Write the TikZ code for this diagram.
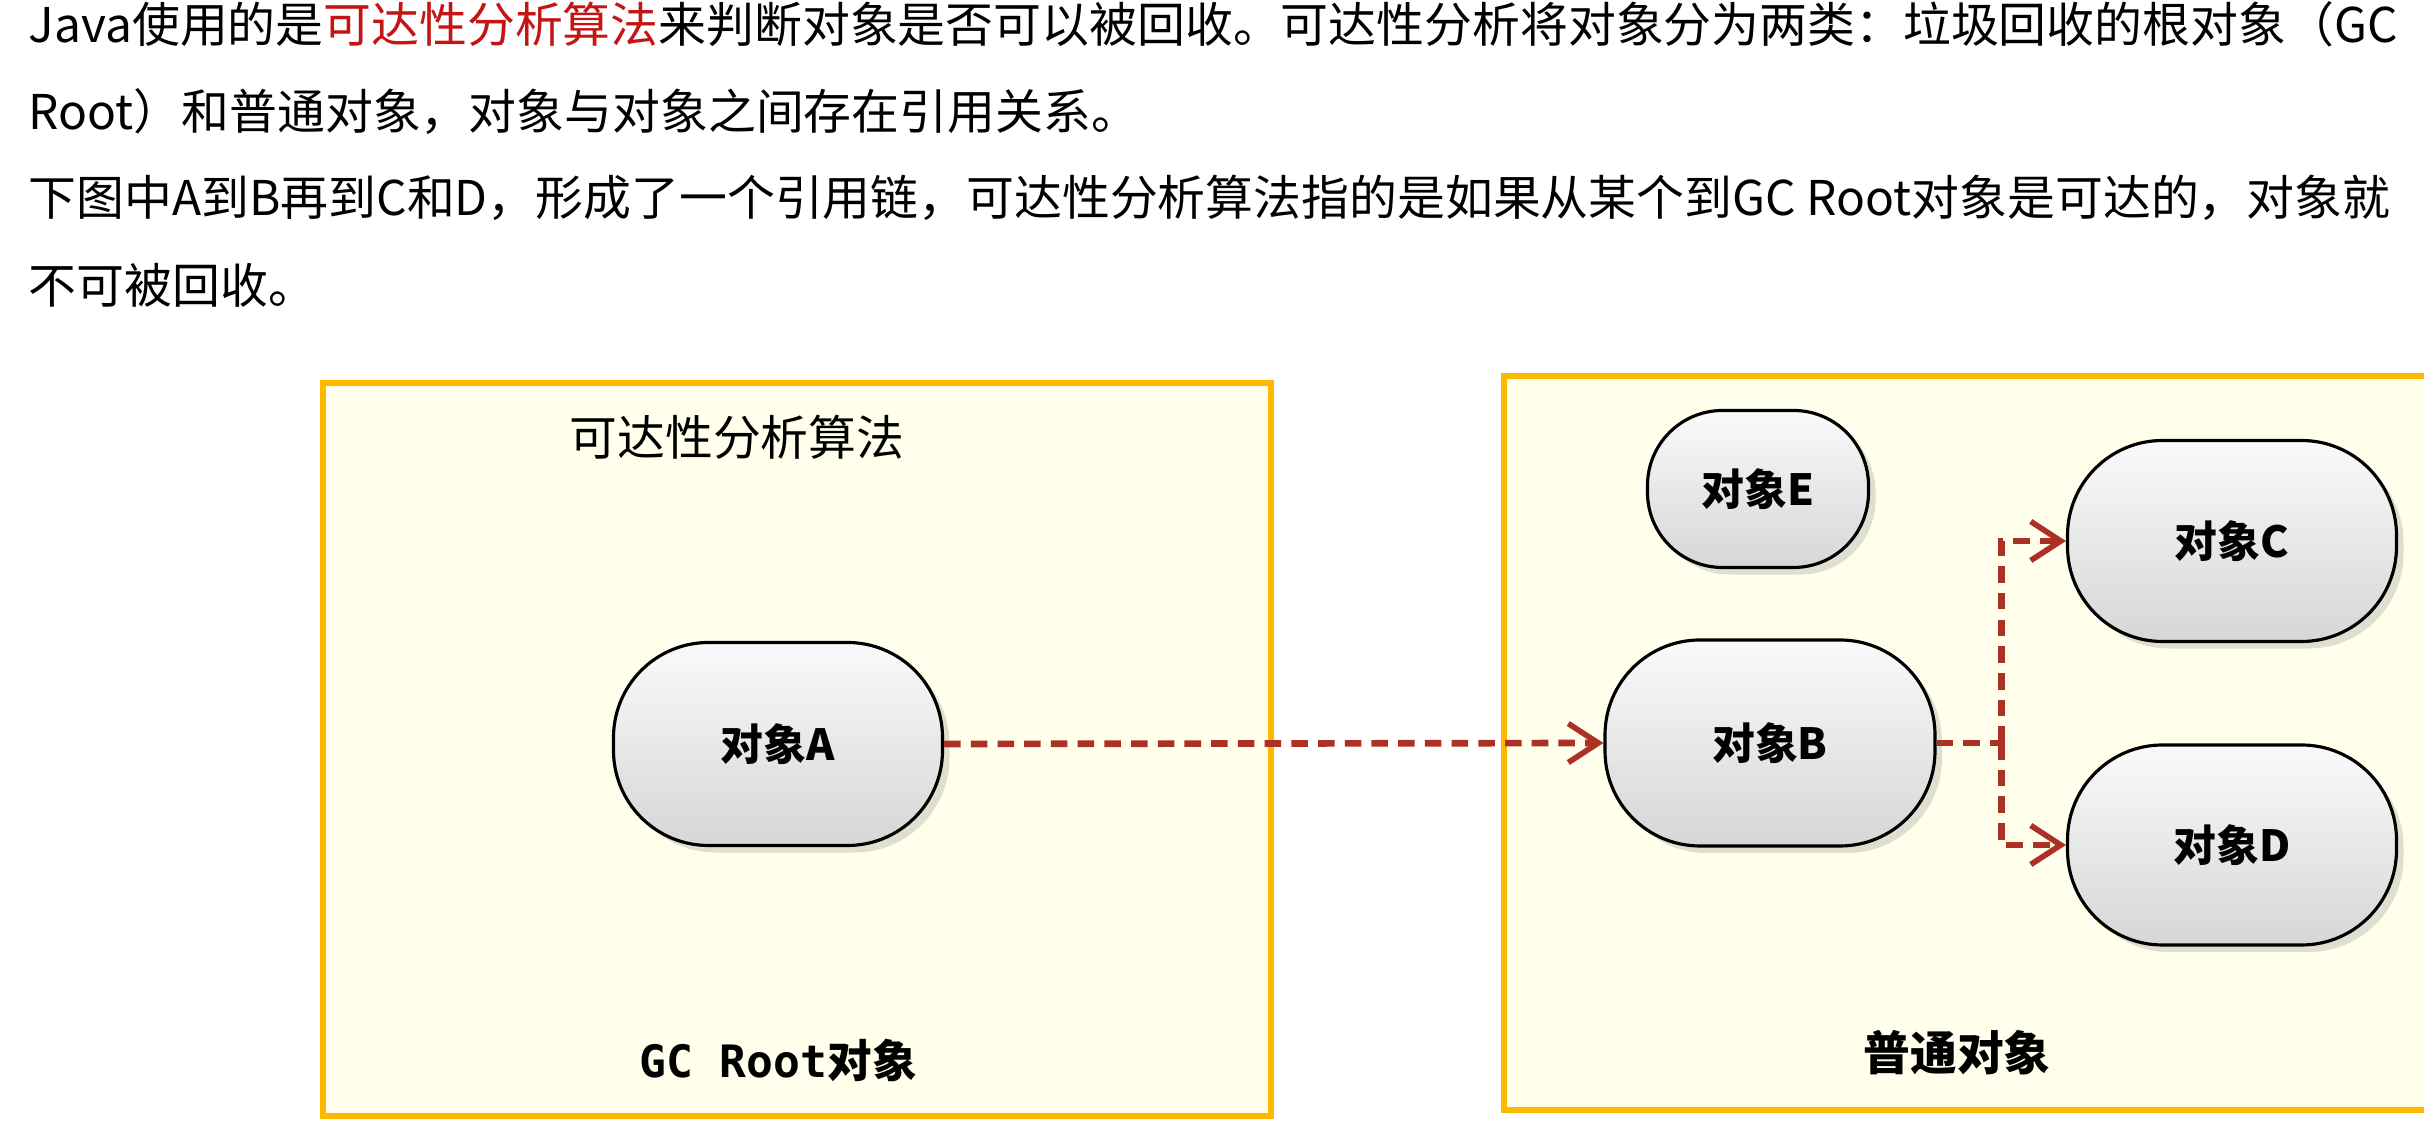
\documentclass[tikz,border=0pt]{standalone}
\usepackage{fontspec}
\setmainfont{Noto Sans CJK SC}
\newfontfamily\codefont{DejaVu Sans Mono}
\usepackage{tikz}
\usetikzlibrary{shapes, shadows, positioning, arrows.meta, calc}

\definecolor{boxorange}{RGB}{255,184,0}
\definecolor{boxfill}{RGB}{255,255,236}
\definecolor{refred}{RGB}{172,48,36}
\definecolor{keyred}{RGB}{196,20,20}

\tikzset{
	region/.style={draw=boxorange, line width=1.9pt, fill=boxfill},
	obj/.style={draw=black, line width=0.9pt, rounded corners=0.95cm, top color=gray!4, bottom color=gray!32,
		drop shadow={opacity=0.25, shadow xshift=2pt, shadow yshift=-2pt},
		minimum width=3.29cm, minimum height=2.03cm, font=\fontsize{12.2}{14}\selectfont\bfseries},
	ref/.style={draw=refred, line width=1.9pt, dash pattern=on 4.7pt off 2.9pt},
	reftip/.style={ref, -{Straight Barb[length=3mm, width=3.9mm, line width=1.6pt]}},
	textline/.style={anchor=west, inner sep=0pt, font=\fontsize{13.62}{16}\selectfont}
}

\begin{document}
\begin{tikzpicture}
			
			\useasboundingbox (0, 0) rectangle (24.24, 11.46);
			\fill[white] (0, 0) rectangle (24.24, 11.46);
			\clip (0, 0) rectangle (24.24, 11.46);
			
			% Text above the picture
			\node[textline] (line1) at (0.28, 11.22) {Java使用的是\textcolor{keyred}{可达性分析算法}来判断对象是否可以被回收。可达性分析将对象分为两类：垃圾回收的根对象（GC};
			\node[textline] (line2) at (0.28, 10.34) {Root）和普通对象，对象与对象之间存在引用关系。};
			\node[textline] (line3) at (0.28, 9.48) {下图中A到B再到C和D，形成了一个引用链，可达性分析算法指的是如果从某个到GC Root对象是可达的，对象就};
			\node[textline] (line4) at (0.28, 8.61) {不可被回收。};
			
			% GC Root side
			\draw[region] (3.23, 0.30) rectangle (12.71, 7.63);
			\node[font=\fontsize{13.6}{16}\selectfont] (title) at (7.37, 7.09) {可达性分析算法};
			\node[font=\fontsize{12.7}{15}\selectfont\bfseries] (rootlabel) at (7.78, 0.86) {{\codefont GC Root}对象};
			
			\node[obj] (A) at (7.78, 4.02) {对象A};
			
			% Ordinary objects side
			\draw[region] (15.04, 0.36) rectangle (24.9, 7.70);
			\node[font=\fontsize{13.3}{16}\selectfont\bfseries] (plainlabel) at (19.57, 0.93) {普通对象};
			
			\node[obj, minimum width=2.21cm, minimum height=1.57cm, rounded corners=0.75cm] (E) at (17.58, 6.57) {对象E};
			\node[obj, minimum width=3.30cm, minimum height=2.06cm] (B) at (17.70, 4.03) {对象B};
			\node[obj, minimum height=2.01cm] (C) at (22.32, 6.05) {对象C};
			\node[obj, minimum height=2.00cm] (D) at (22.32, 3.01) {对象D};
			
			% Reference chain
			\draw[reftip] (A.east) -- (B.west);
			\coordinate (fork) at ($(B.east) + (0.65, 0)$);
			\draw[ref] (B.east) -- (fork);
			\draw[reftip] (fork) |- (C.west);
			\draw[reftip] (fork) |- (D.west);
			
		\end{tikzpicture}
\end{document}
